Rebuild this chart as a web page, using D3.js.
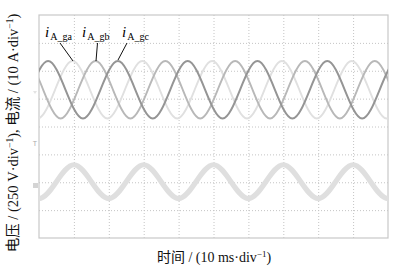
<!DOCTYPE html>
<html><head><meta charset="utf-8">
<script src="https://cdn.jsdelivr.net/npm/d3@7"></script>
<style>body{margin:0;background:#fff}svg{display:block}</style>
</head><body>
<svg id="c" width="394" height="269"></svg>
<script>
// ---- data (time in ms, current in A, voltage in V) ----
const timeGa = [-5.4,-0.4,4.6,9.6,14.6,19.6,24.6,29.6,34.6,39.6,44.6,49.6,54.6,59.6,64.6,69.6,74.6,79.6,84.6,89.6,94.6,99.6,104.6];
const iGa    = [0,-10.3,0,10.3,0,-10.3,0,10.3,0,-10.3,0,10.3,0,-10.3,0,10.3,0,-10.3,0,10.3,0,-10.3,0];
const timeGb = [-8.8,-3.8,1.2,6.2,11.2,16.2,21.2,26.2,31.2,36.2,41.2,46.2,51.2,56.2,61.2,66.2,71.2,76.2,81.2,86.2,91.2,96.2,101.2];
const iGb    = [0,10.3,0,-10.3,0,10.3,0,-10.3,0,10.3,0,-10.3,0,10.3,0,-10.3,0,10.3,0,-10.3,0,10.3,0];
const timeGc = [-2.4,2.6,7.6,12.6,17.6,22.6,27.6,32.6,37.6,42.6,47.6,52.6,57.6,62.6,67.6,72.6,77.6,82.6,87.6,92.6,97.6,102.6,107.6];
const iGc    = [0,10.3,0,-10.3,0,10.3,0,-10.3,0,10.3,0,-10.3,0,10.3,0,-10.3,0,10.3,0,-10.3,0,10.3,0];
const timeU  = [-5,0,5,10,15,20,25,30,35,40,45,50,55,60,65,70,75,80,85,90,95,100,105];
const uA     = [0,-152,0,152,0,-152,0,152,0,-152,0,152,0,-152,0,152,0,-152,0,152,0,-152,0];
const xGridTicks = [10,20,30,40,50,60,70,80,90];
const yGridTicks = [-3,-2,-1,0,1,2,3];
const seriesNames = ["ga","gb","gc"];
const xLabel = "时间 / (10 ms·div";
const yLabelParts = ["电压 / (250 V·div", ", 电流 / (10 A·div"];

// ---- layout ----
const L = 39, R = 388, T = 15, B = 238;
const svg = d3.select("#c");
const x = d3.scaleLinear().domain([0,100]).range([L,R]);
const yDiv = d3.scaleLinear().domain([-4,4]).range([B,T]);
const iOffset = 1.318, iPerDiv = 10;
const uOffset = -1.98, uPerDiv = 250;

svg.append("defs").append("clipPath").attr("id","clip")
  .append("rect").attr("x",L).attr("y",T).attr("width",R-L).attr("height",B-T);

// grid
const gridColor = "#c4c4c4";
svg.append("g").attr("transform",`translate(0,${B})`)
  .call(d3.axisBottom(x).tickValues(xGridTicks).tickSize(-(B-T)).tickFormat(""))
  .call(g=>g.select(".domain").remove())
  .call(g=>g.selectAll("line").attr("stroke",gridColor).attr("stroke-dasharray","1,2"));
svg.append("g").attr("transform",`translate(${L},0)`)
  .call(d3.axisLeft(yDiv).tickValues(yGridTicks).tickSize(-(R-L)).tickFormat(""))
  .call(g=>g.select(".domain").remove())
  .call(g=>g.selectAll("line").attr("stroke",gridColor).attr("stroke-dasharray","1,2"));

svg.append("rect").attr("x",L).attr("y",T).attr("width",R-L).attr("height",B-T)
  .attr("fill","none").attr("stroke","#c8c8c8").attr("stroke-width",1.2);

const plot = svg.append("g").attr("clip-path","url(#clip)");

// voltage
const uLine = d3.line().x((d,i)=>x(timeU[i])).y(d=>yDiv(uOffset + d/uPerDiv)).curve(d3.curveNatural);
plot.append("path").attr("d",uLine(uA)).attr("fill","none").attr("stroke","#dfdfdf").attr("stroke-width",5.2);

// currents
const curr = [
  {t:timeGa, v:iGa, c:"#e0e0e0", w:1.9},
  {t:timeGb, v:iGb, c:"#b8b8b8", w:1.9},
  {t:timeGc, v:iGc, c:"#959595", w:2}
];
curr.forEach(s=>{
  const ln = d3.line().x((d,i)=>x(s.t[i])).y(d=>yDiv(iOffset + d/iPerDiv)).curve(d3.curveNatural);
  plot.append("path").attr("d",ln(s.v)).attr("fill","none").attr("stroke",s.c).attr("stroke-width",s.w);
});

// channel markers
svg.append("text").attr("x",35).attr("y",146).attr("text-anchor","middle")
  .attr("font-family","Liberation Sans").attr("font-size",7).attr("fill","#aaa").text("T");
svg.append("rect").attr("x",33).attr("y",183).attr("width",5).attr("height",5).attr("fill","#d4d4d4");
svg.append("path").attr("d","M33,91 L37,91 L35,94 Z").attr("fill","#e4e4e4");

// series labels
const serif = "'Liberation Serif','Times New Roman',serif";
const labels = [
  {name:seriesNames[0], x:45, lx1:60, ly1:43, lx2:73, ly2:61},
  {name:seriesNames[1], x:82, lx1:97.5, ly1:43, lx2:96, ly2:61},
  {name:seriesNames[2], x:122, lx1:127, ly1:43, lx2:118, ly2:60}
];
labels.forEach(l=>{
  const t = svg.append("text").attr("x",l.x).attr("y",37).attr("font-family",serif).attr("font-size",15);
  t.append("tspan").attr("font-style","italic").text("i");
  t.append("tspan").attr("font-size",10).attr("dy",2.5).attr("dx",1).text("A_"+l.name);
  svg.append("line").attr("x1",l.lx1).attr("y1",l.ly1).attr("x2",l.lx2).attr("y2",l.ly2)
    .attr("stroke","#111").attr("stroke-width",1);
});

// axis labels
const cjk = "'Liberation Serif','Noto Sans CJK SC',serif";
const xl = svg.append("text").attr("x",214).attr("y",262).attr("text-anchor","middle")
  .attr("font-family",cjk).attr("font-size",14).attr("fill","#111");
xl.append("tspan").text(xLabel);
xl.append("tspan").attr("font-size",9).attr("dy",-5).text("−1");
xl.append("tspan").attr("dy",5).text(")");

const yl = svg.append("text").attr("transform","translate(18,133) rotate(-90)").attr("text-anchor","middle")
  .attr("font-family",cjk).attr("font-size",14.5).attr("fill","#111");
yLabelParts.forEach(p=>{
  yl.append("tspan").text(p);
  yl.append("tspan").attr("font-size",9.5).attr("dy",-5).text("−1");
  yl.append("tspan").attr("dy",5).text(")");
});
</script>
</body></html>
